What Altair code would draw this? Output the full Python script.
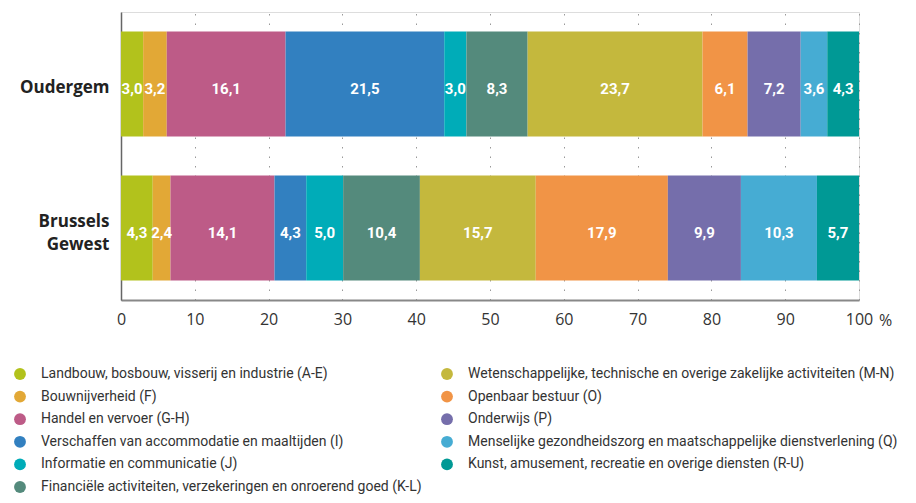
import altair as alt
import pandas as pd

sectors = [
    "Landbouw, bosbouw, visserij en industrie (A-E)",
    "Bouwnijverheid (F)",
    "Handel en vervoer (G-H)",
    "Verschaffen van accommodatie en maaltijden (I)",
    "Informatie en communicatie (J)",
    "Financiële activiteiten, verzekeringen en onroerend goed (K-L)",
    "Wetenschappelijke, technische en overige zakelijke activiteiten (M-N)",
    "Openbaar bestuur (O)",
    "Onderwijs (P)",
    "Menselijke gezondheidszorg en maatschappelijke dienstverlening (Q)",
    "Kunst, amusement, recreatie en overige diensten (R-U)",
]
colors = ["#b2c21c", "#e2a836", "#bd5b87", "#3280c0", "#00acb8", "#548a7c",
          "#c4b83d", "#f19446", "#756eab", "#46acd3", "#009995"]
regions = ["Oudergem", "Brussels Gewest"]
oudergem = [3.0, 3.2, 16.1, 21.5, 3.0, 8.3, 23.7, 6.1, 7.2, 3.6, 4.3]
brussels = [4.3, 2.4, 14.1, 4.3, 5.0, 10.4, 15.7, 17.9, 9.9, 10.3, 5.7]
x_ticks = [0, 10, 20, 30, 40, 50, 60, 70, 80, 90, 100]

rows = []
for region, vals in zip(regions, [oudergem, brussels]):
    for i, (s, v) in enumerate(zip(sectors, vals)):
        rows.append({"region": region, "sector": s, "idx": i, "value": v})
df = pd.DataFrame(rows)

FONT = "Roboto"

base = alt.Chart(df).transform_stack(
    stack="value", groupby=["region"], as_=["x0", "x1"],
    sort=[alt.SortField("idx", order="ascending")]
).transform_calculate(
    mid="(datum.x0 + datum.x1) / 2",
    lab="replace(format(datum.value, '.1f'), '.', ',')"
)

y_enc = alt.Y("region:N", sort=regions, title=None,
              scale=alt.Scale(paddingInner=0.27, paddingOuter=0.135),
              axis=alt.Axis(labelFontSize=17, labelFontWeight="bold", labelColor="#222",
                            labelFont="Open Sans", ticks=False, labelPadding=12,
                            labelExpr="split(datum.label, ' ')", labelLineHeight=23,
                            labelOffset={"condition": {"test": "datum.value == 'Brussels Gewest'",
                                                       "value": -6}, "value": 4},
                            domainColor="#666", domainWidth=1.5, grid=False))

bars = base.mark_bar().encode(
    x=alt.X("x0:Q", scale=alt.Scale(domain=[0, 100], nice=False),
            axis=alt.Axis(values=x_ticks, title="%", titleX=764, titleY=20,
                          titleAlign="center", titleBaseline="middle",
                          titleFontWeight="normal", titleFontSize=16, titleColor="#333",
                          titleFont="Open Sans",
                          labelFontSize=16, labelColor="#333", labelFont="Open Sans",
                          labelFlush=False,
                          ticks=False, labelPadding=11,
                          domainColor="#888", domainWidth=2,
                          grid=True, gridColor="#999", gridDash=[1.5, 8], gridWidth=1)),
    x2="x1:Q",
    y=y_enc,
    color=alt.Color("sector:N", scale=alt.Scale(domain=sectors, range=colors),
                    legend=alt.Legend(title=None, orient="none", legendX=-108, legendY=355,
                                      direction="vertical", columns=2, symbolType="circle",
                                      symbolSize=140, symbolStrokeWidth=0, symbolOpacity=1,
                                      labelFontSize=14, labelFont=FONT, labelColor="#333",
                                      labelLimit=0, labelOffset=14, rowPadding=8.6,
                                      columnPadding=18, padding=0)),
)

texts = base.mark_text(color="white", fontWeight="bold", fontSize=15, dy=5,
                       font="Roboto").encode(
    x="mid:Q",
    y=alt.Y("region:N", sort=regions),
    text="lab:N",
)

chart = (bars + texts).properties(
    width=738, height=288,
    autosize=alt.AutoSizeParams(type="none"),
    padding={"left": 113, "top": 4, "right": 40, "bottom": 195},
).configure_view(stroke=None).configure(font="Open Sans")

chart.save("out.html", embed_options={"renderer": "svg", "actions": False})
